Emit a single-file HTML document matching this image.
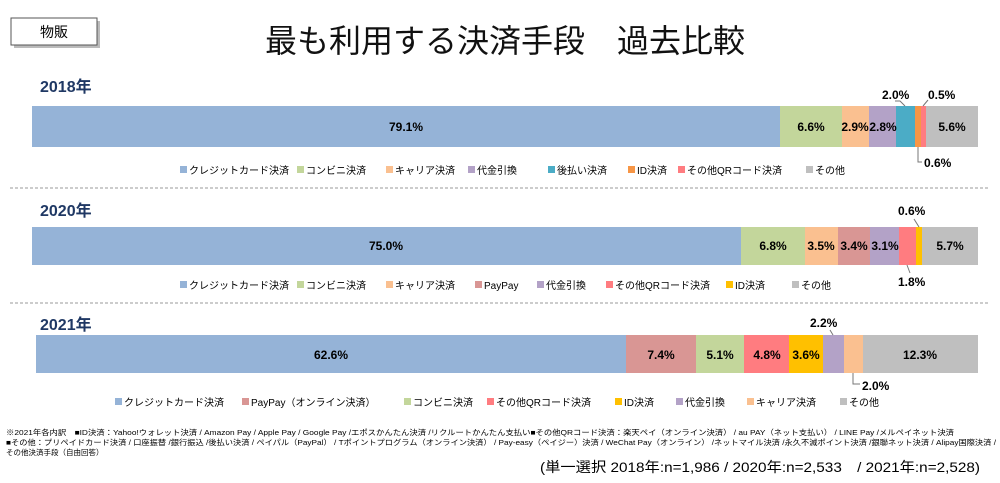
<!DOCTYPE html>
<html><head><meta charset="utf-8"><style>
body{margin:0;background:#fff}
svg{display:block;font-family:"Liberation Sans","Noto Sans CJK JP",sans-serif}
.b{font-weight:bold;font-size:12px;fill:#000}
.l{font-size:10px;fill:#000}
.y{font-weight:bold;font-size:16px;fill:#1f3864}
</style></head><body>
<svg width="1000" height="483" viewBox="0 0 1000 483">
<rect x="14" y="21" width="86" height="27" fill="#bbb"/>
<rect x="11" y="18" width="86" height="27" fill="#fff" stroke="#555"/>
<text x="54" y="37" font-size="14" text-anchor="middle">物販</text>
<text x="505" y="52" font-size="32" text-anchor="middle" fill="#111">最も利用する決済手段　過去比較</text>
<text x="40" y="92" class="y">2018年</text>
<text x="40" y="216" class="y">2020年</text>
<text x="40" y="330" class="y">2021年</text>
<line x1="10" y1="188" x2="990" y2="188" stroke="#999" stroke-dasharray="3,2"/>
<line x1="10" y1="303" x2="990" y2="303" stroke="#999" stroke-dasharray="3,2"/>

<g>
<rect x="32" y="106" width="748" height="41" fill="#95b3d7"/>
<rect x="780" y="106" width="62" height="41" fill="#c3d69b"/>
<rect x="842" y="106" width="27" height="41" fill="#fac090"/>
<rect x="869" y="106" width="27" height="41" fill="#b3a2c7"/>
<rect x="896" y="106" width="19" height="41" fill="#4bacc6"/>
<rect x="915" y="106" width="6" height="41" fill="#f79646"/>
<rect x="921" y="106" width="5" height="41" fill="#ff7c80"/>
<rect x="926" y="106" width="52" height="41" fill="#bfbfbf"/>
<text x="406" y="131" class="b" text-anchor="middle">79.1%</text>
<text x="811" y="131" class="b" text-anchor="middle">6.6%</text>
<text x="855" y="131" class="b" text-anchor="middle">2.9%</text>
<text x="883" y="131" class="b" text-anchor="middle">2.8%</text>
<text x="952" y="131" class="b" text-anchor="middle">5.6%</text>
<text x="882" y="99" class="b">2.0%</text>
<text x="928" y="99" class="b">0.5%</text>
<text x="924" y="167" class="b">0.6%</text>
<polyline points="905,106 900,101 895,101" fill="none" stroke="#777"/>
<polyline points="923,106 928,100" fill="none" stroke="#777"/>
<polyline points="918,147 918,162 922,162" fill="none" stroke="#777"/>
</g>
<g class="l">
<rect x="180" y="166" width="7" height="7" fill="#95b3d7"/><text x="189" y="174">クレジットカード決済</text>
<rect x="297" y="166" width="7" height="7" fill="#c3d69b"/><text x="306" y="174">コンビニ決済</text>
<rect x="386" y="166" width="7" height="7" fill="#fac090"/><text x="395" y="174">キャリア決済</text>
<rect x="468" y="166" width="7" height="7" fill="#b3a2c7"/><text x="477" y="174">代金引換</text>
<rect x="548" y="166" width="7" height="7" fill="#4bacc6"/><text x="557" y="174">後払い決済</text>
<rect x="628" y="166" width="7" height="7" fill="#f79646"/><text x="637" y="174">ID決済</text>
<rect x="678" y="166" width="7" height="7" fill="#ff7c80"/><text x="687" y="174">その他QRコード決済</text>
<rect x="806" y="166" width="7" height="7" fill="#bfbfbf"/><text x="815" y="174">その他</text>
</g>

<g>
<rect x="32" y="227" width="709" height="38" fill="#95b3d7"/>
<rect x="741" y="227" width="64" height="38" fill="#c3d69b"/>
<rect x="805" y="227" width="33" height="38" fill="#fac090"/>
<rect x="838" y="227" width="32" height="38" fill="#d99694"/>
<rect x="870" y="227" width="29" height="38" fill="#b3a2c7"/>
<rect x="899" y="227" width="17" height="38" fill="#ff7c80"/>
<rect x="916" y="227" width="6" height="38" fill="#ffc000"/>
<rect x="922" y="227" width="56" height="38" fill="#bfbfbf"/>
<text x="386" y="250" class="b" text-anchor="middle">75.0%</text>
<text x="773" y="250" class="b" text-anchor="middle">6.8%</text>
<text x="821" y="250" class="b" text-anchor="middle">3.5%</text>
<text x="854" y="250" class="b" text-anchor="middle">3.4%</text>
<text x="885" y="250" class="b" text-anchor="middle">3.1%</text>
<text x="950" y="250" class="b" text-anchor="middle">5.7%</text>
<text x="898" y="215" class="b">0.6%</text>
<text x="898" y="286" class="b">1.8%</text>
<polyline points="919,227 914,219" fill="none" stroke="#777"/>
<polyline points="907,265 910,273" fill="none" stroke="#777"/>
</g>
<g class="l">
<rect x="180" y="281" width="7" height="7" fill="#95b3d7"/><text x="189" y="289">クレジットカード決済</text>
<rect x="297" y="281" width="7" height="7" fill="#c3d69b"/><text x="306" y="289">コンビニ決済</text>
<rect x="386" y="281" width="7" height="7" fill="#fac090"/><text x="395" y="289">キャリア決済</text>
<rect x="475" y="281" width="7" height="7" fill="#d99694"/><text x="484" y="289">PayPay</text>
<rect x="537" y="281" width="7" height="7" fill="#b3a2c7"/><text x="546" y="289">代金引換</text>
<rect x="606" y="281" width="7" height="7" fill="#ff7c80"/><text x="615" y="289">その他QRコード決済</text>
<rect x="726" y="281" width="7" height="7" fill="#ffc000"/><text x="735" y="289">ID決済</text>
<rect x="792" y="281" width="7" height="7" fill="#bfbfbf"/><text x="801" y="289">その他</text>
</g>

<g>
<rect x="36" y="335" width="590" height="38" fill="#95b3d7"/>
<rect x="626" y="335" width="70" height="38" fill="#d99694"/>
<rect x="696" y="335" width="48" height="38" fill="#c3d69b"/>
<rect x="744" y="335" width="45" height="38" fill="#ff7c80"/>
<rect x="789" y="335" width="34" height="38" fill="#ffc000"/>
<rect x="823" y="335" width="21" height="38" fill="#b3a2c7"/>
<rect x="844" y="335" width="19" height="38" fill="#fac090"/>
<rect x="863" y="335" width="115" height="38" fill="#bfbfbf"/>
<text x="331" y="359" class="b" text-anchor="middle">62.6%</text>
<text x="661" y="359" class="b" text-anchor="middle">7.4%</text>
<text x="720" y="359" class="b" text-anchor="middle">5.1%</text>
<text x="767" y="359" class="b" text-anchor="middle">4.8%</text>
<text x="806" y="359" class="b" text-anchor="middle">3.6%</text>
<text x="920" y="359" class="b" text-anchor="middle">12.3%</text>
<text x="810" y="327" class="b">2.2%</text>
<text x="862" y="390" class="b">2.0%</text>
<polyline points="833,335 830,330" fill="none" stroke="#777"/>
<polyline points="853,373 853,384 860,384" fill="none" stroke="#777"/>
</g>
<g class="l">
<rect x="115" y="398" width="7" height="7" fill="#95b3d7"/><text x="124" y="406">クレジットカード決済</text>
<rect x="242" y="398" width="7" height="7" fill="#d99694"/><text x="251" y="406">PayPay（オンライン決済）</text>
<rect x="404" y="398" width="7" height="7" fill="#c3d69b"/><text x="413" y="406">コンビニ決済</text>
<rect x="487" y="398" width="7" height="7" fill="#ff7c80"/><text x="496" y="406">その他QRコード決済</text>
<rect x="615" y="398" width="7" height="7" fill="#ffc000"/><text x="624" y="406">ID決済</text>
<rect x="676" y="398" width="7" height="7" fill="#b3a2c7"/><text x="685" y="406">代金引換</text>
<rect x="747" y="398" width="7" height="7" fill="#fac090"/><text x="756" y="406">キャリア決済</text>
<rect x="840" y="398" width="7" height="7" fill="#bfbfbf"/><text x="849" y="406">その他</text>
</g>

<g font-size="7.5" fill="#000">
<text x="6" y="435" textLength="948" lengthAdjust="spacingAndGlyphs">※2021年各内訳　■ID決済：Yahoo!ウォレット決済 / Amazon Pay / Apple Pay / Google Pay /エポスかんたん決済 /リクルートかんたん支払い■その他QRコード決済：楽天ペイ（オンライン決済） / au PAY（ネット支払い） / LINE Pay /メルペイネット決済</text>
<text x="6" y="445" textLength="990" lengthAdjust="spacingAndGlyphs">■その他：プリペイドカード決済 / 口座振替 /銀行振込 /後払い決済 / ペイパル（PayPal） / Tポイントプログラム（オンライン決済） / Pay-easy（ペイジー）決済 / WeChat Pay（オンライン） /ネットマイル決済 /永久不滅ポイント決済 /銀聯ネット決済 / Alipay国際決済 /</text>
<text x="6" y="455">その他決済手段（自由回答）</text>
</g>
<text x="540" y="472" font-size="14" textLength="440" lengthAdjust="spacingAndGlyphs">(単一選択 2018年:n=1,986 / 2020年:n=2,533　/ 2021年:n=2,528)</text>
</svg>
</body></html>
